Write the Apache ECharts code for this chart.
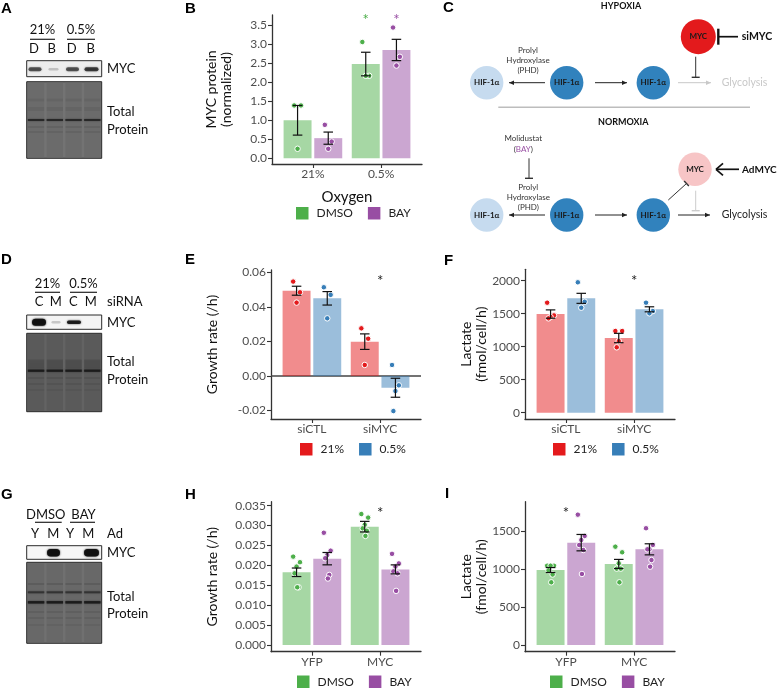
<!DOCTYPE html>
<html><head><meta charset="utf-8">
<script src="https://cdn.jsdelivr.net/npm/echarts@6/dist/echarts.min.js"></script>
<style>html,body{margin:0;padding:0;background:#fff}#c{width:778px;height:688px}</style>
</head><body><div id="c"></div>
<script>
// ---------------- DATA ----------------
// Panel B
const catB = ['21%', '0.5%'];
const grpB = ['DMSO', 'BAY'];
const meanB_DMSO = [1.00, 2.48];
const seB_DMSO = [0.39, 0.31];
const ptsB_DMSO = [[1.39, 1.39, 0.25], [3.06, 2.17, 2.17]];
const meanB_BAY = [0.53, 2.85];
const seB_BAY = [0.16, 0.28];
const ptsB_BAY = [[0.88, 0.44, 0.25], [3.44, 2.67, 2.44]];
const starsB = [[1, 0, 3.73], [1, 1, 3.73]];      // [category, group, y]
const ticksB = [0, 0.5, 1, 1.5, 2, 2.5, 3, 3.5];
// Panel E
const catE = ['siCTL', 'siMYC'];
const grpE = ['21%', '0.5%'];
const meanE_21 = [0.0494, 0.0199];
const seE_21 = [0.0026, 0.0045];
const ptsE_21 = [[0.0547, 0.0485, 0.0425], [0.0276, 0.0216, 0.0064]];
const meanE_05 = [0.0450, -0.0068];
const seE_05 = [0.0039, 0.0055];
const ptsE_05 = [[0.0514, 0.0470, 0.0334], [0.0064, -0.0054, -0.0087, -0.0203]];
const starsE = [[1, null, 0.057]];
const ticksE = [-0.02, 0, 0.02, 0.04, 0.06];
// Panel F
const catF = ['siCTL', 'siMYC'];
const grpF = ['21%', '0.5%'];
const meanF_21 = [1495, 1132];
const seF_21 = [63, 71];
const ptsF_21 = [[1667, 1475, 1450, 1430], [1238, 1238, 1085, 991]];
const meanF_05 = [1733, 1567];
const seF_05 = [76, 38];
const ptsF_05 = [[1976, 1682, 1591], [1667, 1540, 1506]];
const starsF = [[1, null, 2060]];
const ticksF = [0, 500, 1000, 1500, 2000];
// Panel H
const catH = ['YFP', 'MYC'];
const grpH = ['DMSO', 'BAY'];
const meanH_DMSO = [0.01827, 0.02973];
const seH_DMSO = [0.00107, 0.00133];
const ptsH_DMSO = [[0.0222, 0.0208, 0.0197, 0.0180, 0.0145, 0.0145], [0.0329, 0.0320, 0.0302, 0.0293, 0.0287, 0.0274]];
const meanH_BAY = [0.02169, 0.0190];
const seH_BAY = [0.00155, 0.00113];
const ptsH_BAY = [[0.0282, 0.0237, 0.0226, 0.0218, 0.0176, 0.0167], [0.0229, 0.0205, 0.0197, 0.0185, 0.0180, 0.0136]];
const starsH = [[1, null, 0.0341]];
const ticksH = [0, 0.005, 0.010, 0.015, 0.020, 0.025, 0.030, 0.035];
// Panel I
const catI = ['YFP', 'MYC'];
const grpI = ['DMSO', 'BAY'];
const meanI_DMSO = [989, 1069];
const seI_DMSO = [33, 60];
const ptsI_DMSO = [[1046, 1046, 1046, 985, 930, 827], [1297, 1223, 1077, 1007, 1007, 827]];
const meanI_BAY = [1350, 1262];
const seI_BAY = [108, 73];
const ptsI_BAY = [[1719, 1438, 1385, 1319, 1253, 937], [1540, 1320, 1262, 1262, 1121, 1033]];
const starsI = [[0, null, 1790]];
const ticksI = [0, 500, 1000, 1500];

// ---------------- STYLE ----------------
const FONT = 'Lato, "Noto Sans", sans-serif';
const LFONT = '"Liberation Sans", Arial, sans-serif';
const GREEN = '#4daf4a', PURPLE = '#984ea3', RED = '#e41a1c', BLUE = '#377eb8';
const AXC = '#333', TXC = '#4d4d4d';
const DODGE = 0.225, BARW = 0.41, CAPW = 0.14;
const JIT = [-0.05, 0.05, 0, -0.03, 0.03, 0.01];

function panelSeries(gi, groups, colors, means, ses, pts) {
  const s = [];
  groups.forEach((g, k) => {
    const off = k === 0 ? -DODGE : DODGE;
    s.push({
      type: 'custom', name: g, xAxisIndex: gi, yAxisIndex: gi, z: 2, silent: true,
      itemStyle: { color: colors[k] },
      data: means[k].map((v, i) => [i + off, v]),
      renderItem: (p, api) => {
        const x = api.value(0), v = api.value(1);
        const a = api.coord([x - BARW / 2, 0]), b = api.coord([x + BARW / 2, v]);
        return { type: 'rect', shape: { x: a[0], y: Math.min(a[1], b[1]), width: b[0] - a[0], height: Math.abs(b[1] - a[1]) },
          style: { fill: colors[k], opacity: 0.5 } };
      }
    });
    const pd = [];
    pts[k].forEach((arr, i) => arr.forEach((v, j) => pd.push([i + off + JIT[j], v])));
    s.push({ type: 'scatter', name: g, xAxisIndex: gi, yAxisIndex: gi, z: 3, silent: true, symbolSize: 5.5,
      itemStyle: { color: colors[k], borderColor: '#fff', borderWidth: 1, opacity: 1 }, data: pd });
    s.push({
      type: 'custom', name: g + ' SE', xAxisIndex: gi, yAxisIndex: gi, z: 4, silent: true,
      data: means[k].map((v, i) => [i + off, v - ses[k][i], v + ses[k][i]]),
      renderItem: (p, api) => {
        const x = api.value(0);
        const lo = api.coord([x, api.value(1)]), hi = api.coord([x, api.value(2)]);
        const l = api.coord([x - CAPW / 2, 0])[0], r = api.coord([x + CAPW / 2, 0])[0];
        const st = { stroke: '#111', lineWidth: 1.2 };
        return { type: 'group', children: [
          { type: 'line', shape: { x1: lo[0], y1: lo[1], x2: hi[0], y2: hi[1] }, style: st },
          { type: 'line', shape: { x1: l, y1: lo[1], x2: r, y2: lo[1] }, style: st },
          { type: 'line', shape: { x1: l, y1: hi[1], x2: r, y2: hi[1] }, style: st }] };
      }
    });
  });
  return s;
}
function starSeries(gi, stars, colors) {
  return {
    type: 'custom', xAxisIndex: gi, yAxisIndex: gi, z: 5, silent: true,
    data: stars.map(s => [s[0] + (s[1] === null ? 0 : (s[1] === 0 ? -DODGE : DODGE)), s[2]]),
    renderItem: (p, api) => {
      const c = api.coord([api.value(0), api.value(1)]);
      const g = stars[p.dataIndex][1];
      return { type: 'text', x: c[0], y: c[1] + 4, style: { text: '*', fill: g === null ? '#222' : colors[g], fontSize: 15, fontFamily: FONT, align: 'center', verticalAlign: 'middle' } };
    }
  };
}
function zeroLine(gi) {
  return { type: 'custom', xAxisIndex: gi, yAxisIndex: gi, z: 1, silent: true, data: [[0, 0]],
    renderItem: (p, api) => {
      const cs = p.coordSys; const y = api.coord([0, 0])[1];
      return { type: 'line', shape: { x1: cs.x, y1: y, x2: cs.x + cs.width, y2: y }, style: { stroke: '#444', lineWidth: 1.3 } };
    } };
}
function xAx(gi, cats, name) {
  return { type: 'value', gridIndex: gi, min: -0.6, max: 1.6,
    name: name || '', nameLocation: 'middle', nameGap: 26, nameMoveOverlap: false,
    nameTextStyle: { fontSize: 15, fontFamily: FONT, color: '#111' },
    axisLine: { show: true, onZero: false, lineStyle: { color: AXC, width: 1.3 } },
    axisTick: { show: true, customValues: [0, 1], length: 4, lineStyle: { color: AXC, width: 1.1 } },
    axisLabel: { show: true, customValues: [0, 1], formatter: v => cats[Math.round(v)], fontSize: 12, fontFamily: FONT, color: TXC, margin: 4 },
    splitLine: { show: false } };
}
function yAx(gi, min, max, ticks, dec, name, gap) {
  return { type: 'value', gridIndex: gi, min, max,
    name, nameLocation: 'middle', nameGap: gap, nameRotate: 90, nameMoveOverlap: false,
    nameTextStyle: { fontSize: 14, fontFamily: FONT, color: '#111', lineHeight: 15, align: 'center' },
    axisLine: { show: true, onZero: false, lineStyle: { color: AXC, width: 1.3 } },
    axisTick: { show: true, customValues: ticks, length: 4, lineStyle: { color: AXC, width: 1.1 } },
    axisLabel: { show: true, customValues: ticks, formatter: v => v.toFixed(dec), fontSize: 12, fontFamily: FONT, color: TXC, margin: 5 },
    splitLine: { show: false } };
}
function legend(left, top, items) {
  return { left, top, padding: 0, orient: 'horizontal', icon: 'rect', itemWidth: 12.5, itemHeight: 12.5, itemGap: 15,
    selectedMode: false,
    textStyle: { fontSize: 12, fontFamily: FONT, color: '#222', padding: [0, 0, 0, 3] },
    data: items.map(it => ({ name: it[0], itemStyle: { color: it[1], opacity: 1, borderWidth: 0 } })) };
}

// ---------------- GRAPHICS (blots + diagram) ----------------
const G = [];
function T(x, y, text, o) { G.push({ type: 'text', x, y, z: 20, silent: true, style: Object.assign({ text, fill: '#111', fontSize: 13, fontFamily: FONT, align: 'left', verticalAlign: 'middle' }, o || {}) }); }
function L(x1, y1, x2, y2, stroke, w) { G.push({ type: 'line', z: 15, silent: true, shape: { x1, y1, x2, y2 }, style: { stroke: stroke || '#222', lineWidth: w || 1 } }); }
function R(x, y, w, h, fill, stroke, lw, extra) { G.push({ type: 'rect', z: 10, silent: true, shape: { x, y, width: w, height: h, r: (extra && extra.r) || 0 }, style: Object.assign({ fill, stroke: stroke || null, lineWidth: lw || 0 }, (extra && extra.style) || {}) }); }
function arrow(x1, y1, x2, y2, color) {
  L(x1, y1, x2, y2, color, 1);
  const a = Math.atan2(y2 - y1, x2 - x1), len = 5, wd = 2.3;
  const bx = x2 - len * Math.cos(a), by = y2 - len * Math.sin(a);
  const px = -Math.sin(a), py = Math.cos(a);
  G.push({ type: 'polygon', z: 15, silent: true, shape: { points: [[x2, y2], [bx + px * wd, by + py * wd], [bx - px * wd, by - py * wd]] }, style: { fill: color } });
}
function inhib(x1, y1, x2, y2, color, half, w) {
  L(x1, y1, x2, y2, color, w || 1);
  const a = Math.atan2(y2 - y1, x2 - x1), px = -Math.sin(a), py = Math.cos(a);
  L(x2 + px * half, y2 + py * half, x2 - px * half, y2 - py * half, color, (w || 1) * 1.4);
}
function circ(cx, cy, r, fill, label) {
  G.push({ type: 'circle', z: 12, silent: true, shape: { cx, cy, r }, style: { fill } });
  T(cx, cy, label, { align: 'center', fontWeight: 'bold', fontSize: 8, fill: '#1a1a1a' });
}
function band(cx, cy, w, h, alpha) {
  R(cx - w / 2, cy - h / 2, w, h, 'rgba(15,15,15,' + alpha + ')', null, 0, { r: h / 2, style: { shadowBlur: 2, shadowColor: 'rgba(15,15,15,' + alpha + ')' } });
}
function gel(x, y, w, h, gapCol, laneCol, lines) {
  R(x, y, w, h, gapCol, '#2a2a2a', 1);
  const lw = w / 4;
  for (let i = 0; i < 4; i++) R(x + i * lw + 1.2, y + 1, lw - 2.4, h - 2, laneCol);
  lines.forEach(ln => { for (let i = 0; i < 4; i++) R(x + i * lw + 1.2, ln[0] - ln[1] / 2, lw - 2.4, ln[1], ln[2], null, 0, { style: { shadowBlur: 1.5, shadowColor: ln[2] } }); });
}
function panelLetter(x, y, t) { T(x, y, t, { fontFamily: LFONT, fontWeight: 'bold', fontSize: 15, fill: '#000' }); }

// Panel letters
panelLetter(1, 8.5, 'A'); panelLetter(185, 8.5, 'B'); panelLetter(443, 8, 'C');
panelLetter(1, 260, 'D'); panelLetter(185, 260, 'E'); panelLetter(444, 261, 'F');
panelLetter(1, 495, 'G'); panelLetter(185, 495, 'H'); panelLetter(445, 494, 'I');

// Blot A
T(42.5, 30, '21%', { align: 'center' }); L(30, 39.3, 55, 39.3, '#222', 1.2);
T(81, 30, '0.5%', { align: 'center' }); L(67, 39.3, 95, 39.3, '#222', 1.2);
[['D', 34], ['B', 51.7], ['D', 71.7], ['B', 90.7]].forEach(d => T(d[1], 49.3, d[0], { align: 'center' }));
R(26.7, 60.7, 75, 16, '#ededed', '#2a2a2a', 1);
band(35, 69.3, 13, 4, 0.6); band(53.5, 69.3, 10, 2.5, 0.18); band(72.5, 69.3, 13, 4, 0.6); band(91.5, 69.3, 14, 4, 0.7);
gel(26.7, 81.7, 75, 76.6, '#737373', '#6b6b6b', [[100, 3, 'rgba(0,0,0,0.06)'], [109, 4, 'rgba(0,0,0,0.06)'], [120, 1.8, 'rgba(30,30,30,0.85)'], [127, 1.5, 'rgba(0,0,0,0.1)'], [132, 1.5, 'rgba(0,0,0,0.08)']]);
T(107, 69, 'MYC'); T(107, 111.7, 'Total'); T(107, 130, 'Protein');

// Blot D
T(47.5, 284.3, '21%', { align: 'center' }); L(35, 292.3, 60, 292.3, '#222', 1.2);
T(83.5, 284.3, '0.5%', { align: 'center' }); L(70, 292.3, 97, 292.3, '#222', 1.2);
[['C', 39], ['M', 55.7], ['C', 73.3], ['M', 90.7]].forEach(d => T(d[1], 301.7, d[0], { align: 'center' }));
T(107, 301.7, 'siRNA');
R(26.7, 315, 75, 14.3, '#f4f4f4', '#2a2a2a', 1);
band(39, 322.3, 14, 7, 0.95); band(56, 322.3, 9, 2.5, 0.18); band(74, 322.3, 14, 3.5, 0.85);
gel(26.7, 333.3, 75, 78.4, '#636363', '#5a5a5a', [[364, 9, 'rgba(0,0,0,0.12)'], [370.7, 2.2, 'rgba(25,25,25,0.9)'], [378, 1.5, 'rgba(0,0,0,0.1)'], [384, 1.5, 'rgba(0,0,0,0.08)'], [390, 1.5, 'rgba(0,0,0,0.07)']]);
T(107, 322.7, 'MYC'); T(107, 362.3, 'Total'); T(107, 380, 'Protein');

// Blot G
T(45.8, 515, 'DMSO', { align: 'center' }); L(35, 522.3, 61.7, 522.3, '#222', 1.2);
T(83.5, 515, 'BAY', { align: 'center' }); L(70, 522.3, 95, 522.3, '#222', 1.2);
[['Y', 35], ['M', 53.3], ['Y', 70], ['M', 88.3]].forEach(d => T(d[1], 534, d[0], { align: 'center' }));
T(107, 534, 'Ad');
R(26.7, 545.7, 75, 13.6, '#f6f6f6', '#2a2a2a', 1);
band(53.5, 552.8, 13, 7.5, 0.95); band(91.5, 552.8, 15, 7.5, 0.95);
gel(26.7, 562.3, 75, 81, '#707070', '#686868', [[584, 2, 'rgba(0,0,0,0.1)'], [592.3, 2, 'rgba(40,40,40,0.7)'], [602.3, 2.4, 'rgba(25,25,25,0.9)'], [612, 1.5, 'rgba(0,0,0,0.1)'], [618, 1.5, 'rgba(0,0,0,0.08)'], [625, 1.5, 'rgba(0,0,0,0.07)']]);
T(107, 553.3, 'MYC'); T(107, 596.7, 'Total'); T(107, 614, 'Protein');

// Diagram C
const HL = '#c6dbef', HD = '#3182bd';
T(621, 6.3, 'HYPOXIA', { align: 'center', fontWeight: 'bold', fontSize: 9 });
T(528, 50, 'Prolyl', { align: 'center', fontSize: 8, fill: '#333' });
T(528, 60, 'Hydroxylase', { align: 'center', fontSize: 8, fill: '#333' });
T(528, 70, '(PHD)', { align: 'center', fontSize: 8, fill: '#333' });
arrow(545, 82.7, 509, 82.7, '#222'); arrow(595, 82.7, 627, 82.7, '#222'); arrow(678, 82.7, 711, 82.7, '#c8c8c8');
circ(486.7, 82.7, 16.7, HL, 'HIF-1α'); circ(566.7, 82.7, 16.7, HD, 'HIF-1α'); circ(653.3, 82.7, 16.7, HD, 'HIF-1α');
T(721.7, 82.7, 'Glycolysis', { fontSize: 10.5, fill: '#c8c8c8' });
circ(698.3, 36.7, 17.5, '#e31a1c', 'MYC');
inhib(695.7, 56.7, 695.7, 77.3, '#333', 4, 1);
inhib(738, 36.7, 718.3, 36.7, '#111', 8, 1.7);
T(741.7, 36.7, 'siMYC', { fontWeight: 'bold', fontSize: 10.5 });
L(498.3, 107.3, 750, 107.3, '#bdbdbd', 1.5);
T(623.3, 121.7, 'NORMOXIA', { align: 'center', fontWeight: 'bold', fontSize: 9 });
T(523.3, 138.3, 'Molidustat', { align: 'center', fontSize: 8, fill: '#333' });
G.push({ type: 'text', x: 523.3, y: 149.3, z: 20, silent: true, style: { text: '({p|BAY})', fill: '#333', fontSize: 8, fontFamily: FONT, align: 'center', verticalAlign: 'middle', rich: { p: { fill: PURPLE, fontSize: 8, fontFamily: FONT } } } });
inhib(529, 158.3, 529, 178.3, '#333', 4, 1);
T(528.3, 187.3, 'Prolyl', { align: 'center', fontSize: 8, fill: '#333' });
T(528.3, 197.3, 'Hydroxylase', { align: 'center', fontSize: 8, fill: '#333' });
T(528.3, 207.3, '(PHD)', { align: 'center', fontSize: 8, fill: '#333' });
arrow(545, 215, 509, 215, '#222'); arrow(595, 215, 627, 215, '#222'); arrow(678, 215, 710, 215, '#222');
circ(486.7, 215, 16.7, HL, 'HIF-1α'); circ(566.7, 215, 16.7, HD, 'HIF-1α'); circ(653.3, 215, 16.7, HD, 'HIF-1α');
T(721.7, 215, 'Glycolysis', { fontSize: 10.5, fill: '#222' });
circ(695, 169.3, 16.7, '#f7c5c6', 'MYC');
inhib(668.3, 200, 686.5, 183.5, '#333', 3.5, 1);
inhib(695.7, 190.7, 695.7, 210.7, '#cccccc', 4, 1);
L(739, 169.3, 716, 169.3, '#111', 1.7);
L(723, 163.3, 716, 169.3, '#111', 1.7); L(723, 175.3, 716, 169.3, '#111', 1.7);
T(742, 169.3, 'AdMYC', { fontWeight: 'bold', fontSize: 10 });

// ---------------- OPTION ----------------
const grids = [
  { left: 272, top: 15, width: 150, height: 149 },
  { left: 271, top: 270, width: 150, height: 149 },
  { left: 525, top: 269.3, width: 150, height: 149.7 },
  { left: 271, top: 501.7, width: 150, height: 150 },
  { left: 525, top: 501.7, width: 150, height: 150 }
].map(g => Object.assign({ outerBoundsMode: 'none', containLabel: false, show: false }, g));

const series = [].concat(
  panelSeries(0, grpB, [GREEN, PURPLE], [meanB_DMSO, meanB_BAY], [seB_DMSO, seB_BAY], [ptsB_DMSO, ptsB_BAY]),
  [starSeries(0, starsB, [GREEN, PURPLE])],
  [zeroLine(1)],
  panelSeries(1, grpE, [RED, BLUE], [meanE_21, meanE_05], [seE_21, seE_05], [ptsE_21, ptsE_05]),
  [starSeries(1, starsE, [RED, BLUE])],
  panelSeries(2, grpF, [RED, BLUE], [meanF_21, meanF_05], [seF_21, seF_05], [ptsF_21, ptsF_05]),
  [starSeries(2, starsF, [RED, BLUE])],
  panelSeries(3, grpH, [GREEN, PURPLE], [meanH_DMSO, meanH_BAY], [seH_DMSO, seH_BAY], [ptsH_DMSO, ptsH_BAY]),
  [starSeries(3, starsH, [GREEN, PURPLE])],
  panelSeries(4, grpI, [GREEN, PURPLE], [meanI_DMSO, meanI_BAY], [seI_DMSO, seI_BAY], [ptsI_DMSO, ptsI_BAY]),
  [starSeries(4, starsI, [GREEN, PURPLE])]
);

const option = {
  animation: false,
  backgroundColor: '#fff',
  textStyle: { fontFamily: FONT },
  grid: grids,
  xAxis: [xAx(0, catB, 'Oxygen'), xAx(1, catE), xAx(2, catF), xAx(3, catH), xAx(4, catI)],
  yAxis: [
    yAx(0, -0.15, 3.77, ticksB, 1, 'MYC protein\n(normalized)', 38),
    yAx(1, -0.0249, 0.0614, ticksE, 2, 'Growth rate (/h)', 51),
    yAx(2, -95, 2173, ticksF, 0, 'Lactate\n(fmol/cell/h)', 36),
    yAx(3, -0.00168, 0.036, ticksH, 3, 'Growth rate (/h)', 51),
    yAx(4, -88, 1890, ticksI, 0, 'Lactate\n(fmol/cell/h)', 36)
  ],
  legend: [
    legend(296, 207, [['DMSO', GREEN], ['BAY', PURPLE]]),
    legend(300, 443, [['21%', RED], ['0.5%', BLUE]]),
    legend(553, 443, [['21%', RED], ['0.5%', BLUE]]),
    legend(297, 675.5, [['DMSO', GREEN], ['BAY', PURPLE]]),
    legend(550, 675.5, [['DMSO', GREEN], ['BAY', PURPLE]])
  ],
  graphic: { elements: G },
  series
};
const chart = echarts.init(document.getElementById('c'), null, { renderer: 'canvas' });
chart.setOption(option);
</script></body></html>
